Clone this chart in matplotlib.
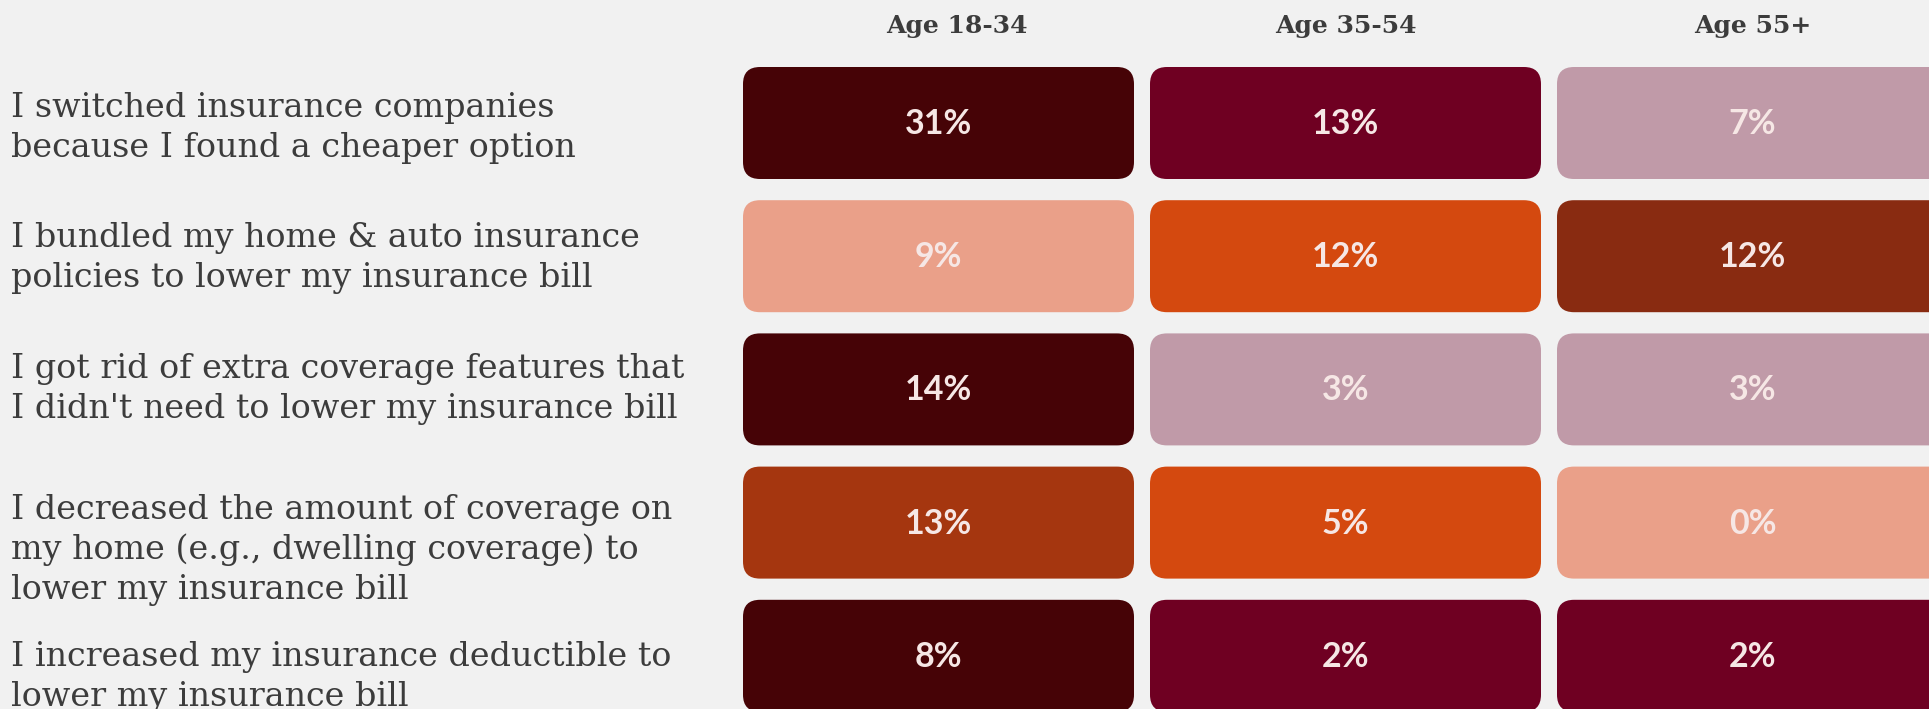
import matplotlib
matplotlib.use("Agg")
import matplotlib.pyplot as plt
from matplotlib.patches import FancyBboxPatch

# ---------------- data ----------------
statements = [
    "I switched insurance companies\nbecause I found a cheaper option",
    "I bundled my home & auto insurance\npolicies to lower my insurance bill",
    "I got rid of extra coverage features that\nI didn't need to lower my insurance bill",
    "I decreased the amount of coverage on\nmy home (e.g., dwelling coverage) to\nlower my insurance bill",
    "I increased my insurance deductible to\nlower my insurance bill",
]
age_groups = ["Age 18-34", "Age 35-54", "Age 55+"]
values_18_34 = [31, 9, 14, 13, 8]
values_35_54 = [13, 12, 3, 5, 2]
values_55_plus = [7, 12, 3, 0, 2]

# ---------------- styles ----------------
DARK = "#460306"
CRIMSON = "#6f0022"
MAUVE = "#c09aa8"
SALMON = "#eaa089"
ORANGE = "#d4490f"
RUST = "#892b11"
RUST2 = "#a5360f"
colors_18_34 = [DARK, SALMON, DARK, RUST2, DARK]
colors_35_54 = [CRIMSON, ORANGE, MAUVE, ORANGE, CRIMSON]
colors_55_plus = [MAUVE, RUST, MAUVE, SALMON, CRIMSON]

BG = "#f1f1f1"
LABEL_COLOR = "#3c3c3c"
VALUE_COLOR = "#f6e7e5"

# ---------------- layout (pixels) ----------------
W, H = 1929, 709
GRID_LEFT = 743
COL_PITCH = 407
COL_W = 391
GRID_TOP = 67
ROW_PITCH = 133.2
ROW_H = 112
RADIUS = 17
LABEL_X = 11
LINE_STEP = 40
HEADER_BASELINE = 33
HEADER_DX = [18, 0, 0]
LABEL_DY = [5, 2, 0, 27, 21]

fig = plt.figure(figsize=(W / 100, H / 100), dpi=100)
fig.patch.set_facecolor(BG)
ax = fig.add_axes([GRID_LEFT / W, 0, 1 - GRID_LEFT / W, 1])
ax.set_facecolor(BG)
ax.set_xlim(0, (W - GRID_LEFT) / COL_PITCH)
ax.set_ylim((H - GRID_TOP) / ROW_PITCH, -GRID_TOP / ROW_PITCH)
ax.axis("off")

bw = COL_W / COL_PITCH
bh = ROW_H / ROW_PITCH
aspect = COL_PITCH / ROW_PITCH

all_values = [values_18_34, values_35_54, values_55_plus]
all_colors = [colors_18_34, colors_35_54, colors_55_plus]

for j, (vals, cols) in enumerate(zip(all_values, all_colors)):
    for i, (v, c) in enumerate(zip(vals, cols)):
        box = FancyBboxPatch((j, i), bw, bh,
                             boxstyle=f"round,pad=0,rounding_size={RADIUS / COL_PITCH}",
                             mutation_aspect=aspect,
                             facecolor=c, edgecolor="none")
        ax.add_patch(box)
        ax.text(j + bw / 2, i + bh / 2 + 1 / ROW_PITCH, f"{v}%", ha="center", va="center",
                fontsize=24.5, fontweight="bold", family="Lato", color=VALUE_COLOR)
    ax.text(j + bw / 2 + HEADER_DX[j] / COL_PITCH, -(GRID_TOP - HEADER_BASELINE) / ROW_PITCH,
            age_groups[j], ha="center", va="baseline", fontsize=18,
            fontweight="bold", family="DejaVu Serif", color=LABEL_COLOR)

for i, s in enumerate(statements):
    lines = s.split("\n")
    n = len(lines)
    center = i + bh / 2
    first = center + (LABEL_DY[i] - (n - 1) * LINE_STEP / 2 + 9) / ROW_PITCH
    for k, line in enumerate(lines):
        ax.text((LABEL_X - GRID_LEFT) / COL_PITCH, first + k * LINE_STEP / ROW_PITCH, line,
                ha="left", va="baseline", fontsize=24, family="DejaVu Serif",
                color=LABEL_COLOR)

fig.savefig("out.png", dpi=100, facecolor=BG)
